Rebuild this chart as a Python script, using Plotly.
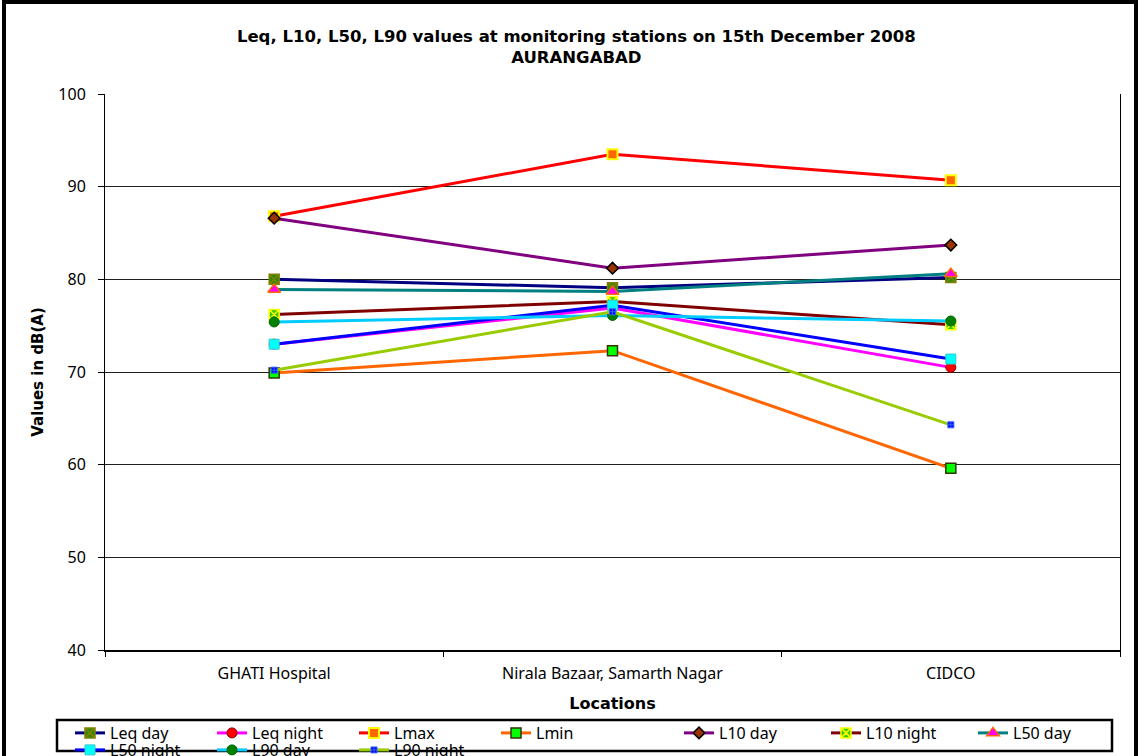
import plotly.graph_objects as go

# --- Data ---
locations = ["GHATI Hospital", "Nirala Bazaar, Samarth Nagar", "CIDCO"]

leq_day = [80.0, 79.1, 80.2]
leq_night = [73.0, 76.9, 70.5]
lmax = [86.8, 93.5, 90.7]
lmin = [69.9, 72.3, 59.6]
l10_day = [86.6, 81.2, 83.7]
l10_night = [76.2, 77.6, 75.1]
l50_day = [78.9, 78.7, 80.6]
l50_night = [73.0, 77.2, 71.4]
l90_day = [75.4, 76.1, 75.5]
l90_night = [70.2, 76.5, 64.3]

W, H = 1139, 756
ML, MR, MT, MB = 105, 19, 94, 106
PW, PH = W - ML - MR, H - MT - MB


def px_x(px):
    return (px - ML) / PW


def px_y(py):
    return (H - MB - py) / PH


# name, values, line colour, symbol, marker fill, marker outline, outline width, size, legend
series = [
    ("Leq day", leq_day, "#000080", "square-x", "#2E8B00", "#808000", 1.5, 10, "legend"),
    ("Leq night", leq_night, "#FF00FF", "circle", "#FF0000", "#800000", 1, 10, "legend"),
    ("Lmax", lmax, "#FF0000", "square", "#FF6600", "#FFFF00", 2, 10, "legend"),
    ("Lmin", lmin, "#FF6600", "square", "#00FF00", "#333300", 1.5, 10, "legend"),
    ("L10 day", l10_day, "#800080", "diamond", "#993300", "#000000", 1.5, 9, "legend3"),
    ("L10 night", l10_night, "#800000", "square-x", "#33CC00", "#FFFF00", 1.5, 10, "legend3"),
    ("L50 day", l50_day, "#008080", "triangle-up", "#FF00FF", "#FF6600", 1.5, 11, "legend3"),
    ("L50 night", l50_night, "#0000FF", "square", "#00FFFF", "#33CCCC", 1, 10, "legend2"),
    ("L90 day", l90_day, "#00CCFF", "circle", "#008000", "#006600", 1, 10, "legend2"),
    ("L90 night", l90_night, "#99CC00", "square-cross", "#0000FF", "#3366FF", 1, 6, "legend2"),
]

fig = go.Figure()
for name, vals, lc, sym, mc, ml, mlw, ms, lg in series:
    fig.add_trace(go.Scatter(
        x=locations, y=vals, name=name, mode="lines+markers",
        line=dict(color=lc, width=3),
        marker=dict(symbol=sym, color=mc, size=ms, line=dict(color=ml, width=mlw)),
        legend=lg,
    ))

tick_font = dict(family="Noto Sans", size=16, color="#000000")
bold_font = "DejaVu Sans"

leg_common = dict(
    orientation="h", xref="container", yref="container",
    xanchor="left", yanchor="top", bgcolor="rgba(0,0,0,0)",
    borderwidth=0, font=dict(family="Noto Sans", size=16, color="#000000"),
    entrywidthmode="pixels", traceorder="normal", itemwidth=30,
)

fig.update_layout(
    width=W, height=H, autosize=False,
    margin=dict(l=ML, r=MR, t=MT, b=MB, autoexpand=False),
    paper_bgcolor="white", plot_bgcolor="white",
    title=dict(
        text="Leq, L10, L50, L90 values at monitoring stations on 15th December 2008<br>AURANGABAD",
        x=0.506, xanchor="center", y=1 - 42 / H, yanchor="top", yref="container",
        font=dict(family=bold_font, size=16.5, color="#000000", weight="bold"),
    ),
    xaxis=dict(
        type="category", range=[-0.5, 2.5], showgrid=False, automargin=False,
        showline=True, linecolor="#000000", linewidth=2,
        ticks="outside", tickson="boundaries", ticklen=5, tickcolor="#000000",
        tickfont=tick_font, ticklabelstandoff=8,
        title=dict(text="Locations", standoff=15,
                   font=dict(family=bold_font, size=16, color="#000000", weight="bold")),
    ),
    yaxis=dict(
        range=[40, 100], dtick=10, showgrid=True, gridcolor="#202020", gridwidth=1,
        showline=True, linecolor="#000000", linewidth=1, mirror=True, automargin=False,
        ticks="outside", ticklen=6, tickcolor="#000000", zeroline=False,
        tickfont=tick_font, ticklabelstandoff=9,
        title=dict(text="Values in dB(A)", standoff=11,
                   font=dict(family=bold_font, size=15, color="#000000", weight="bold")),
    ),
    legend=dict(leg_common, x=70 / W, y=1 - 716 / H, entrywidth=97),
    legend3=dict(leg_common, x=679 / W, y=1 - 716 / H, entrywidth=102),
    legend2=dict(leg_common, x=70 / W, y=1 - 733 / H, entrywidth=97),
    showlegend=True,
)

# outer chart frame and legend box
fig.add_shape(type="rect", xref="paper", yref="paper",
              x0=px_x(4), x1=px_x(1136), y0=px_y(800), y1=px_y(2),
              line=dict(color="#000000", width=4), fillcolor="rgba(0,0,0,0)", layer="above")
fig.add_shape(type="rect", xref="paper", yref="paper",
              x0=px_x(57), x1=px_x(1112), y0=px_y(751), y1=px_y(720),
              line=dict(color="#000000", width=2.5), fillcolor="rgba(0,0,0,0)", layer="below")

fig.write_html("out.html", config={"displayModeBar": False},
               post_script="document.body.style.margin='0';")
